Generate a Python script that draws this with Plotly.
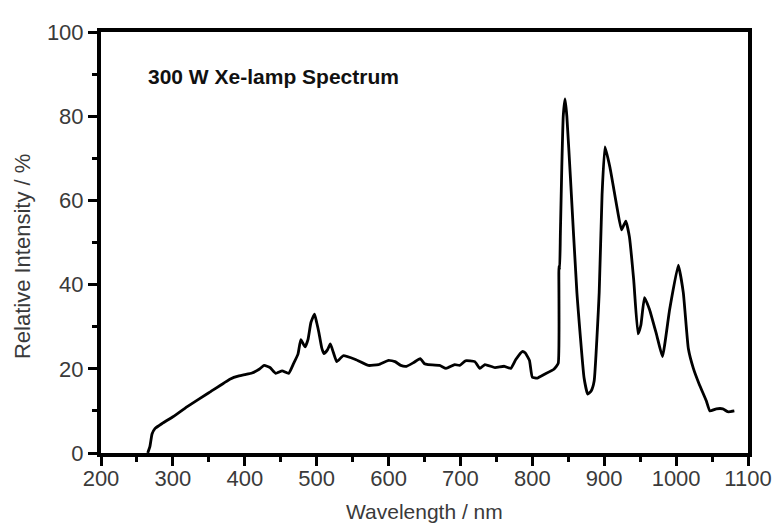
import plotly.graph_objects as go

# Spectrum (wavelength in nm, relative intensity in %)
wavelength = [265, 268, 271, 275, 285, 300, 320, 350, 380, 392, 400, 410, 420, 427, 435,
              443, 452, 461, 468, 474, 478, 484, 488, 492, 497, 500, 503, 507, 510, 515,
              519, 523, 528, 537, 554, 572, 586, 600, 609, 617, 625, 635, 644, 650, 655,
              671, 680, 692, 699, 707, 720, 727, 734, 748, 761, 770, 777, 786, 790, 796,
              800, 807, 817, 830, 836, 837, 838, 839, 841, 843, 845.5, 848, 853, 862,
              872, 877, 882, 886, 893, 897, 901, 908, 917, 924, 930, 935, 941, 947, 951,
              956, 963, 973, 981, 991, 1003, 1010, 1017, 1024, 1032, 1042, 1047, 1056,
              1065, 1072, 1081]
intensity = [0.0, 1.5, 4.5, 5.8, 7.0, 8.6, 11.0, 14.3, 17.6, 18.3, 18.6, 19.0, 19.9, 20.8, 20.3,
             18.9, 19.5, 18.9, 21.3, 23.5, 26.9, 25.2, 27.0, 31.0, 33.0, 31.0, 28.7, 25.0, 23.6, 24.5,
             25.9, 24.0, 21.7, 23.1, 22.2, 20.8, 21.0, 22.0, 21.7, 20.8, 20.6, 21.5, 22.4, 21.2, 21.0,
             20.8, 20.1, 21.0, 20.8, 21.9, 21.7, 20.1, 21.0, 20.3, 20.6, 20.1, 22.2, 24.1, 23.8, 22.0,
             18.0, 17.8, 18.7, 19.9, 21.3, 44.4, 43.5, 52.0, 68.0, 80.0, 84.1, 80.0, 65.4, 38.1,
             17.8, 14.0, 14.8, 17.1, 38.1, 61.4, 72.7, 67.8, 59.1, 53.0, 55.1, 51.4, 41.1, 28.3, 30.4,
             36.9, 34.1, 28.0, 22.9, 34.1, 44.6, 38.1, 24.8, 20.1, 16.4, 12.4, 10.0, 10.5,
             10.5, 9.8, 10.0]

x_ticks = [200, 300, 400, 500, 600, 700, 800, 900, 1000, 1100]
y_ticks = [0, 20, 40, 60, 80, 100]

chart_title = "300 W Xe-lamp Spectrum"
x_title = "Wavelength / nm"
y_title = "Relative Intensity / %"

FONT = "Arial, Liberation Sans, sans-serif"
TXT = "#3a3a3a"

fig = go.Figure()
fig.add_trace(go.Scatter(
    x=wavelength, y=intensity, mode="lines",
    line=dict(color="black", width=2.8, shape="spline", smoothing=0.4),
    hoverinfo="skip", showlegend=False,
))

axis_common = dict(
    showgrid=False, zeroline=False,
    showline=True, linecolor="black", linewidth=4, mirror=True,
    ticks="outside", ticklen=9, tickwidth=3, tickcolor="black",
    tickfont=dict(family=FONT, size=22, color=TXT),
)

fig.update_xaxes(
    range=[200, 1100], tickvals=x_ticks, ticktext=[str(v) for v in x_ticks],
    minor=dict(ticks="outside", ticklen=5, tickwidth=3, tickcolor="black", dtick=50, tick0=250),
    ticklabelstandoff=-6,
    **axis_common,
)
fig.update_yaxes(
    range=[0, 100], tickvals=y_ticks, ticktext=[str(v) for v in y_ticks],
    minor=dict(ticks="outside", ticklen=5, tickwidth=3, tickcolor="black", dtick=20, tick0=10),
    **axis_common,
)

# The page body adds an 8 px offset, so the figure is sized and placed to compensate.
fig.update_layout(
    width=776, height=522,
    margin=dict(l=93, r=32, t=17, b=77),
    paper_bgcolor="white", plot_bgcolor="white",
    font=dict(family=FONT, color=TXT),
    annotations=[
        dict(text="<b>" + chart_title + "</b>", xref="paper", yref="paper",
             x=0.069, y=0.895, xanchor="left", yanchor="middle", showarrow=False,
             font=dict(family=FONT, size=21, color="#111111")),
        dict(text=x_title, xref="paper", yref="paper", x=0.5, y=-0.140,
             xanchor="center", yanchor="middle", showarrow=False,
             font=dict(family=FONT, size=21, color=TXT)),
        dict(text=y_title, xref="paper", yref="paper", x=-0.121, y=0.467,
             xanchor="center", yanchor="middle", showarrow=False, textangle=-90,
             font=dict(family=FONT, size=22, color=TXT)),
    ],
)

fig.write_html("out.html")
